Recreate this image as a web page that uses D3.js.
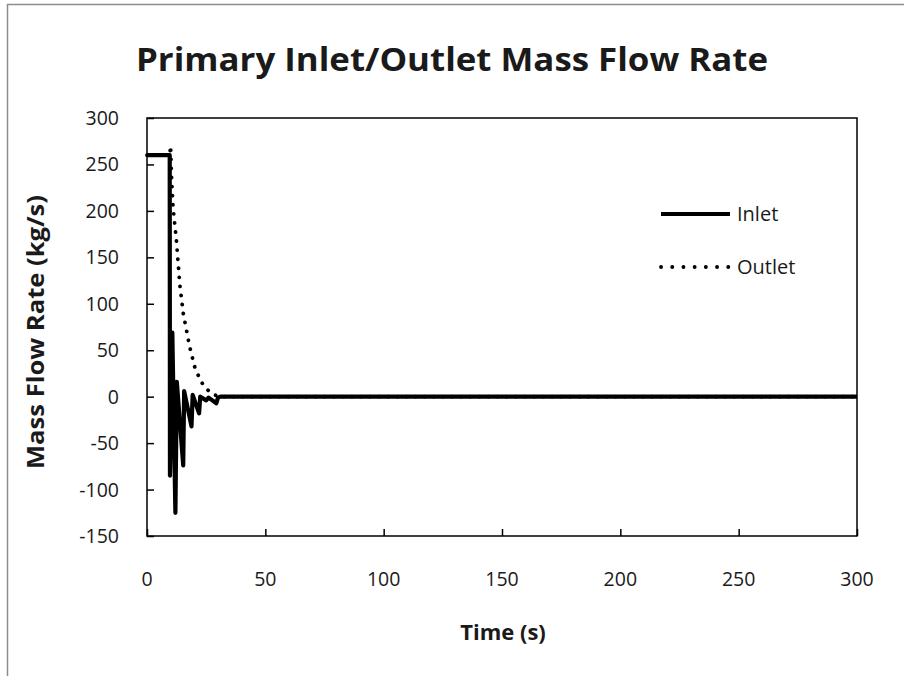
<!DOCTYPE html>
<html>
<head>
<meta charset="utf-8">
<script src="https://cdn.jsdelivr.net/npm/d3@7"></script>
<style>
  body { margin: 0; background: #fff; }
  text { font-family: "Open Sans", sans-serif; fill: #1a1a1a; }
</style>
</head>
<body>
<svg id="chart" width="904" height="676"></svg>
<script>
// values
var inletTime  = [0, 9.6, 9.7, 10.7, 12.0, 12.6, 15.3, 15.7, 18.8, 19.3, 22.0, 22.5, 25.0, 26.0, 29.3, 30.0, 31, 300];
var inletFlow  = [260, 260, -85, 69, -125, 16, -74, 6, -32, 2, -18, 0, -4, -1, -7, -1, 0, 0];
var outletTime = [0, 9.6, 10.0, 10.3, 11.0, 12.4, 13.5, 13.8, 15.3, 18.0, 20.1, 22.7, 25.5, 28.3, 31, 300];
var outletFlow = [260, 260, 270, 240, 204, 169, 133, 122, 90, 54, 32.5, 16.5, 7.5, 2, 0, 0];
var xTicks = [0, 50, 100, 150, 200, 250, 300];
var yTicks = [-150, -100, -50, 0, 50, 100, 150, 200, 250, 300];
var seriesNames = ["Inlet", "Outlet"];

var svg = d3.select("#chart");

// outer chart border (only left and top visible)
svg.append("line").attr("x1", 7.5).attr("x2", 7.5).attr("y1", 4).attr("y2", 676)
  .attr("stroke", "#8c8c8c").attr("stroke-width", 1.5);
svg.append("line").attr("x1", 7).attr("x2", 904).attr("y1", 4.5).attr("y2", 4.5)
  .attr("stroke", "#8c8c8c").attr("stroke-width", 1.5);

var x = d3.scaleLinear().domain([0, 300]).range([147, 857]);
var y = d3.scaleLinear().domain([-150, 300]).range([536, 118]);

// plot frame
svg.append("rect")
  .attr("x", x(0)).attr("y", y(300))
  .attr("width", x(300) - x(0)).attr("height", y(-150) - y(300))
  .attr("fill", "none").attr("stroke", "#000").attr("stroke-width", 1.5);

// inner ticks
var xAxis = d3.axisBottom(x).tickValues(xTicks).tickSize(-7).tickFormat("");
var yAxis = d3.axisLeft(y).tickValues(yTicks).tickSize(-7).tickFormat("");
svg.append("g").attr("transform", "translate(0," + y(-150) + ")").call(xAxis)
  .call(function(g) { g.select(".domain").remove(); g.selectAll("line").attr("stroke-width", 1.5); });
svg.append("g").attr("transform", "translate(" + x(0) + ",0)").call(yAxis)
  .call(function(g) { g.select(".domain").remove(); g.selectAll("line").attr("stroke-width", 1.5); });

// tick labels
svg.selectAll(".xl").data(xTicks).enter().append("text")
  .attr("x", function(d) { return x(d); }).attr("y", 586)
  .attr("text-anchor", "middle").attr("font-size", 19.5).text(function(d) { return d; });
svg.selectAll(".yl").data(yTicks).enter().append("text")
  .attr("x", 119).attr("y", function(d) { return y(d) + 7; })
  .attr("text-anchor", "end").attr("font-size", 19.5).text(function(d) { return d; });

// lines
var line = d3.line().x(function(d) { return x(d[0]); }).y(function(d) { return y(d[1]); });
var outletData = outletTime.map(function(t, i) { return [t, outletFlow[i]]; });
var inletData = inletTime.map(function(t, i) { return [t, inletFlow[i]]; });

svg.append("path").datum(outletData).attr("d", line)
  .attr("fill", "none").attr("stroke", "#000").attr("stroke-width", 3.8)
  .attr("stroke-linecap", "round").attr("stroke-dasharray", "0.1 9");
svg.append("path").datum(inletData).attr("d", line)
  .attr("fill", "none").attr("stroke", "#000").attr("stroke-width", 4.2)
  .attr("stroke-linejoin", "round");

// legend
var legY = [214, 267];
svg.append("line").attr("x1", 661).attr("x2", 730).attr("y1", legY[0]).attr("y2", legY[0])
  .attr("stroke", "#000").attr("stroke-width", 4);
svg.append("line").attr("x1", 661).attr("x2", 730).attr("y1", legY[1]).attr("y2", legY[1])
  .attr("stroke", "#000").attr("stroke-width", 3.8)
  .attr("stroke-linecap", "round").attr("stroke-dasharray", "0.1 11.1");
svg.selectAll(".lg").data(seriesNames).enter().append("text")
  .attr("x", 737).attr("y", function(d, i) { return legY[i] + 7; })
  .attr("font-size", 20).text(function(d) { return d; });

// titles
svg.append("text").attr("x", 452).attr("y", 71).attr("text-anchor", "middle")
  .attr("font-size", 33).attr("font-weight", "bold")
  .attr("textLength", 632).attr("lengthAdjust", "spacingAndGlyphs")
  .text("Primary Inlet/Outlet Mass Flow Rate");
svg.append("text").attr("x", 503).attr("y", 640).attr("text-anchor", "middle")
  .attr("font-size", 22).attr("font-weight", "bold").text("Time (s)");
svg.append("text").attr("transform", "translate(44,332) rotate(-90)").attr("text-anchor", "middle")
  .attr("font-size", 23).attr("font-weight", "bold")
  .attr("textLength", 274).attr("lengthAdjust", "spacingAndGlyphs")
  .text("Mass Flow Rate (kg/s)");
</script>
</body>
</html>
